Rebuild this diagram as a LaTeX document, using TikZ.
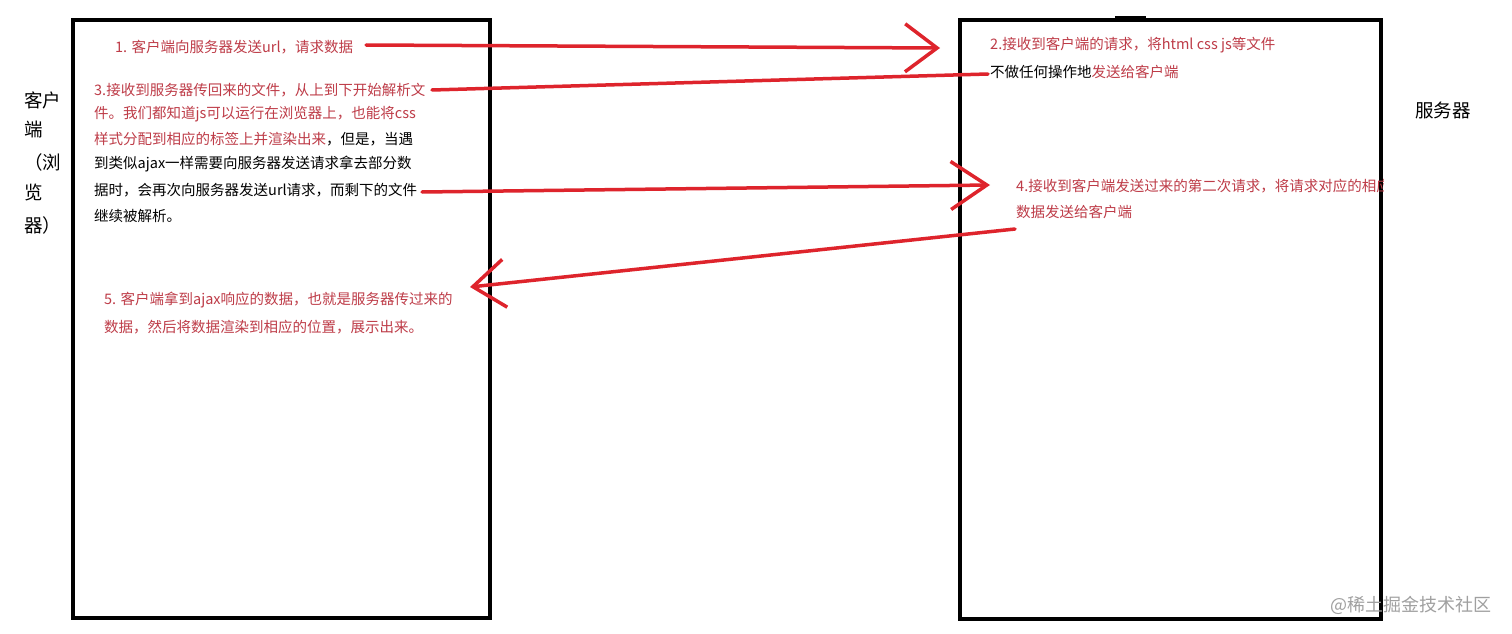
\documentclass[tikz,border=0pt]{standalone}
\usepackage{fontspec}
\setmainfont{Noto Sans CJK SC}
\usetikzlibrary{arrows.meta}
\definecolor{txtred}{RGB}{190,60,72}
\definecolor{penred}{RGB}{222,36,44}
\definecolor{wmgray}{RGB}{160,160,160}
\tikzset{
  panel/.style={draw=black,line width=4pt},
  body/.style={anchor=west,inner sep=0pt,font=\fontsize{14.5}{17}\selectfont},
  side/.style={anchor=west,inner sep=0pt,font=\fontsize{18.5}{21}\selectfont},
  stroke/.style={draw=penred,line width=3.5pt,line cap=round},
  barb/.style={-{Straight Barb[length=#1,width=48pt,line width=3.5pt]}},
}
\begin{document}
\begin{tikzpicture}[x=1pt,y=-1pt]
\useasboundingbox (0,0) rectangle (1512,634);
\fill[white] (0,0) rectangle (1512,634);
% panels
\draw[panel] (73,20) rectangle (490,618);
\draw[panel] (960,20) rectangle (1381,619);
\draw[line width=3pt] (1115,18) -- (1146,18);
% side labels
\node[side] (c1) at (24,100) {客户};
\node[side] (c2) at (24,130) {端};
\node[side] (c3) at (24,162) {（浏};
\node[side] (c4) at (24,192) {览};
\node[side] (c5) at (24,225) {器）};
\node[side] (srv) at (1415,110) {服务器};
% text 1
\node[body,text=txtred] (t1) at (115,47) {1. 客户端向服务器发送url，请求数据};
% text 2
\node[body,text=txtred] (t2a) at (990,45) {2.接收到客户端的请求，将html css js等文件};
\node[body] (t2b) at (990,72) {不做任何操作地\textcolor{txtred}{发送给客户端}};
% text 3
\node[body,text=txtred] (t3a) at (94,90) {3.接收到服务器传回来的文件，从上到下开始解析文};
\node[body,text=txtred] (t3b) at (94,114) {件。我们都知道js可以运行在浏览器上，也能将css};
\node[body] (t3c) at (94,139) {\textcolor{txtred}{样式分配到相应的标签上并渲染出来}，但是，当遇};
\node[body] (t3d) at (94,164) {到类似ajax一样需要向服务器发送请求拿去部分数};
\node[body] (t3e) at (94,190) {据时，会再次向服务器发送url请求，而剩下的文件};
\node[body] (t3f) at (94,216) {继续被解析。};
% text 4 (clipped at the panel edge)
\begin{scope}
\clip (960,150) rectangle (1383,240);
\node[body,text=txtred] (t4a) at (1016,186) {4.接收到客户端发送过来的第二次请求，将请求对应的相应};
\end{scope}
\node[body,text=txtred] (t4b) at (1016,212) {数据发送给客户端};
% text 5
\node[body,text=txtred] (t5a) at (104,300) {5. 客户端拿到ajax响应的数据，也就是服务器传过来的};
\node[body,text=txtred] (t5b) at (104,327) {数据，然后将数据渲染到相应的位置，展示出来。};
% watermark
\node[anchor=west,inner sep=0pt,text=wmgray,font=\fontsize{18}{20}\selectfont] (wm) at (1330,605) {@稀土掘金技术社区};
% connectors
\coordinate (a1s) at (366,45);
\coordinate (a1e) at (940,48);
\coordinate (a3s) at (432,90);
\coordinate (a3e) at (988,74);
\coordinate (a4s) at (422,192);
\coordinate (a4e) at (990,185);
\coordinate (a5s) at (1015,229);
\coordinate (a5e) at (470,287);
\draw[stroke,barb=32pt] (a1s) -- (a1e);
\draw[stroke] (a3s) -- (a3e);
\draw[stroke,barb=36pt] (a4s) -- (a4e);
\draw[stroke,barb=32pt] (a5s) -- (a5e);
\end{tikzpicture}
\end{document}
